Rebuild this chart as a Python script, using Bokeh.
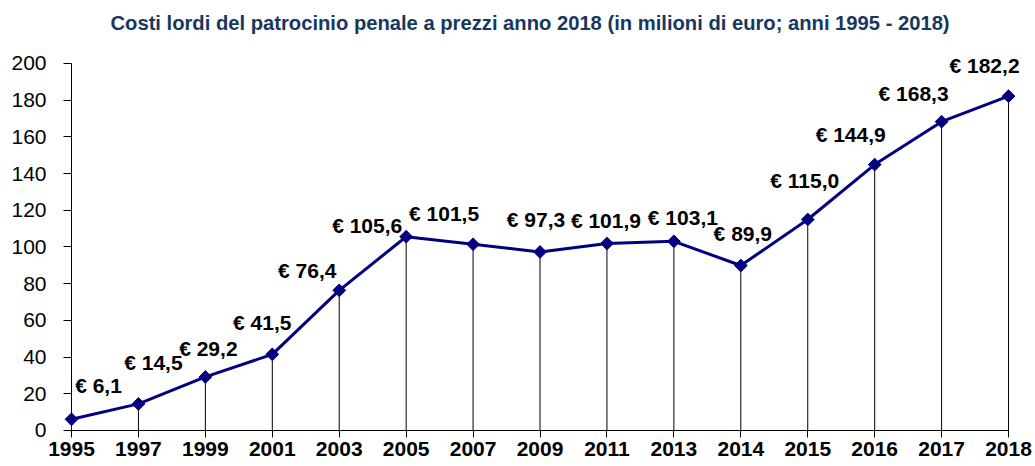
import math
from bokeh.plotting import figure
from bokeh.models import Range1d, FixedTicker, ColumnDataSource
from bokeh.embed import file_html
from bokeh.resources import INLINE
from bokeh.core.properties import value

# ---- data ----
years = ["1995", "1997", "1999", "2001", "2003", "2005", "2007", "2009",
         "2011", "2013", "2014", "2015", "2016", "2017", "2018"]
costs = [6.1, 14.5, 29.2, 41.5, 76.4, 105.6, 101.5, 97.3,
         101.9, 103.1, 89.9, 115.0, 144.9, 168.3, 182.2]
cost_labels = ["€ 6,1", "€ 14,5", "€ 29,2", "€ 41,5", "€ 76,4", "€ 105,6",
               "€ 101,5", "€ 97,3", "€ 101,9", "€ 103,1", "€ 89,9",
               "€ 115,0", "€ 144,9", "€ 168,3", "€ 182,2"]
y_ticks = [0, 20, 40, 60, 80, 100, 120, 140, 160, 180, 200]

# label placement (screen px, style only)
label_dx = [27, 15, 3, -10, -32, -39, -29, -4, -1, 9, 2, -3, -24, -28, -24]
label_dy = [-34, -41, -28, -32, -20, -11, -31, -32, -23, -24, -32, -39, -30, -28, -31]

xs = list(range(len(years)))
src = ColumnDataSource(dict(x=xs, y=costs, lab=cost_labels,
                            dx=label_dx, dy=label_dy,
                            y0=[0] * len(xs)))

FONT = "Liberation Sans"
NAVY = "#000080"

p = figure(width=1035, height=466, output_backend="svg", toolbar_location=None,
           x_range=Range1d(-1.031, 14.373), y_range=Range1d(-19.62, 211.44),
           min_border_left=2, min_border_right=2, min_border_top=42,
           min_border_bottom=0)
p.title.text = "Costi lordi del patrocinio penale a prezzi anno 2018 (in milioni di euro; anni 1995 - 2018)"
p.title.align = "left"
p.title.offset = 108
p.title.standoff = 17
p.title.text_font = FONT
p.title.text_font_size = "20.2px"
p.title.text_font_style = "bold"
p.title.text_color = "#17375E"

p.outline_line_color = None
p.xgrid.visible = False
p.ygrid.visible = False
p.background_fill_color = "white"
p.border_fill_color = "white"

# drop lines
p.segment(x0="x", y0="y0", x1="x", y1="y", source=src, line_color="black", line_width=1)
# series
p.line(x="x", y="y", source=src, line_color=NAVY, line_width=3)
p.scatter(x="x", y="y", source=src, marker="square", angle=math.pi / 4, size=9,
          fill_color=NAVY, line_color=NAVY)
p.text(x="x", y="y", text="lab", source=src, x_offset="dx", y_offset="dy",
       text_font=value(FONT), text_font_size="21px", text_font_style="bold",
       text_color="black", text_align="center", text_baseline="middle")

# x axis
xa = p.xaxis[0]
xa.ticker = FixedTicker(ticks=xs)
xa.major_label_overrides = {i: y for i, y in enumerate(years)}
xa.bounds = (0, 14)
xa.fixed_location = 0
xa.minor_tick_line_color = None
xa.major_tick_in = 0
xa.major_tick_out = 7
xa.axis_line_color = "black"
xa.major_tick_line_color = "black"
xa.major_label_text_font = FONT
xa.major_label_text_font_size = "21px"
xa.major_label_text_font_style = "bold"
xa.major_label_text_color = "black"
xa.major_label_standoff = 5

# y axis
ya = p.yaxis[0]
ya.ticker = FixedTicker(ticks=y_ticks)
ya.bounds = (0, 200)
ya.fixed_location = 0
ya.minor_tick_line_color = None
ya.major_tick_in = 0
ya.major_tick_out = 8
ya.axis_line_color = "black"
ya.major_tick_line_color = "black"
ya.major_label_text_font = FONT
ya.major_label_text_font_size = "21px"
ya.major_label_text_color = "black"
ya.major_label_standoff = 17

open("out.html", "w").write(file_html(p, INLINE))
